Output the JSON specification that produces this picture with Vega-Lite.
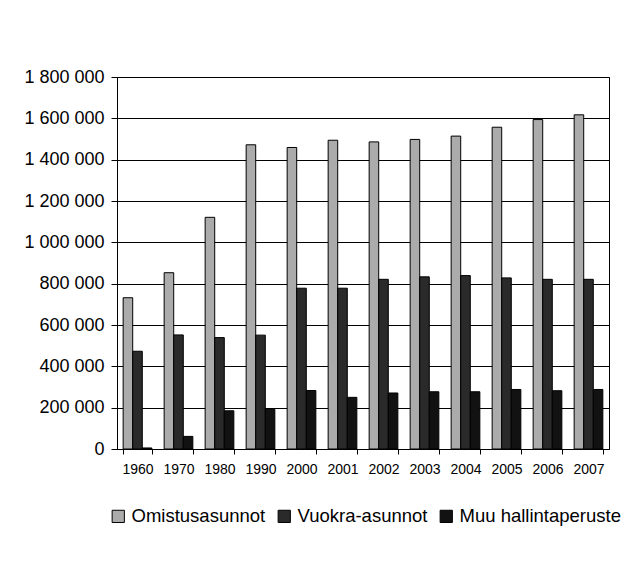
{
  "$schema": "https://vega.github.io/schema/vega-lite/v6.json",
  "width": 492,
  "height": 372,
  "autosize": {"type": "none"},
  "padding": {"left": 117, "top": 77, "right": 22, "bottom": 121},
  "background": "white",
  "config": {
    "locale": {"number": {"decimal": ",", "thousands": " ", "grouping": [3], "currency": ["", " €"]}},
    "font": "Liberation Sans",
    "view": {"stroke": "black", "strokeWidth": 1}
  },
  "data": {
    "values": [
      {"vuosi": "1960", "laji": "Omistusasunnot", "asuntoja": 732000},
      {"vuosi": "1960", "laji": "Vuokra-asunnot", "asuntoja": 473000},
      {"vuosi": "1960", "laji": "Muu hallintaperuste", "asuntoja": 5000},
      {"vuosi": "1970", "laji": "Omistusasunnot", "asuntoja": 853000},
      {"vuosi": "1970", "laji": "Vuokra-asunnot", "asuntoja": 552000},
      {"vuosi": "1970", "laji": "Muu hallintaperuste", "asuntoja": 61000},
      {"vuosi": "1980", "laji": "Omistusasunnot", "asuntoja": 1121000},
      {"vuosi": "1980", "laji": "Vuokra-asunnot", "asuntoja": 539000},
      {"vuosi": "1980", "laji": "Muu hallintaperuste", "asuntoja": 185000},
      {"vuosi": "1990", "laji": "Omistusasunnot", "asuntoja": 1472000},
      {"vuosi": "1990", "laji": "Vuokra-asunnot", "asuntoja": 551000},
      {"vuosi": "1990", "laji": "Muu hallintaperuste", "asuntoja": 192000},
      {"vuosi": "2000", "laji": "Omistusasunnot", "asuntoja": 1459000},
      {"vuosi": "2000", "laji": "Vuokra-asunnot", "asuntoja": 778000},
      {"vuosi": "2000", "laji": "Muu hallintaperuste", "asuntoja": 283000},
      {"vuosi": "2001", "laji": "Omistusasunnot", "asuntoja": 1494000},
      {"vuosi": "2001", "laji": "Vuokra-asunnot", "asuntoja": 778000},
      {"vuosi": "2001", "laji": "Muu hallintaperuste", "asuntoja": 250000},
      {"vuosi": "2002", "laji": "Omistusasunnot", "asuntoja": 1486000},
      {"vuosi": "2002", "laji": "Vuokra-asunnot", "asuntoja": 821000},
      {"vuosi": "2002", "laji": "Muu hallintaperuste", "asuntoja": 271000},
      {"vuosi": "2003", "laji": "Omistusasunnot", "asuntoja": 1498000},
      {"vuosi": "2003", "laji": "Vuokra-asunnot", "asuntoja": 833000},
      {"vuosi": "2003", "laji": "Muu hallintaperuste", "asuntoja": 277000},
      {"vuosi": "2004", "laji": "Omistusasunnot", "asuntoja": 1514000},
      {"vuosi": "2004", "laji": "Vuokra-asunnot", "asuntoja": 839000},
      {"vuosi": "2004", "laji": "Muu hallintaperuste", "asuntoja": 277000},
      {"vuosi": "2005", "laji": "Omistusasunnot", "asuntoja": 1557000},
      {"vuosi": "2005", "laji": "Vuokra-asunnot", "asuntoja": 828000},
      {"vuosi": "2005", "laji": "Muu hallintaperuste", "asuntoja": 288000},
      {"vuosi": "2006", "laji": "Omistusasunnot", "asuntoja": 1594000},
      {"vuosi": "2006", "laji": "Vuokra-asunnot", "asuntoja": 821000},
      {"vuosi": "2006", "laji": "Muu hallintaperuste", "asuntoja": 282000},
      {"vuosi": "2007", "laji": "Omistusasunnot", "asuntoja": 1617000},
      {"vuosi": "2007", "laji": "Vuokra-asunnot", "asuntoja": 821000},
      {"vuosi": "2007", "laji": "Muu hallintaperuste", "asuntoja": 288000}
    ]
  },
  "mark": {"type": "bar", "stroke": "black", "strokeWidth": 1},
  "encoding": {
    "x": {
      "field": "vuosi",
      "type": "nominal",
      "title": null,
      "scale": {"paddingInner": 0.3, "paddingOuter": 0.15},
      "axis": {
        "labelAngle": 0,
        "labelFontSize": 14,
        "labelColor": "black",
        "labelPadding": 8,
        "tickBand": "extent",
        "tickColor": "black",
        "tickSize": 5,
        "domainColor": "black",
        "grid": false
      }
    },
    "xOffset": {"field": "laji", "sort": ["Omistusasunnot", "Vuokra-asunnot", "Muu hallintaperuste"]},
    "y": {
      "field": "asuntoja",
      "type": "quantitative",
      "title": null,
      "scale": {"domain": [0, 1800000]},
      "axis": {
        "values": [0, 200000, 400000, 600000, 800000, 1000000, 1200000, 1400000, 1600000, 1800000],
        "format": ",d",
        "labelFontSize": 18,
        "labelColor": "black",
        "labelPadding": 7,
        "tickSize": 6,
        "tickColor": "black",
        "domainColor": "black",
        "gridColor": "black",
        "gridOpacity": 1
      }
    },
    "color": {
      "field": "laji",
      "type": "nominal",
      "sort": ["Omistusasunnot", "Vuokra-asunnot", "Muu hallintaperuste"],
      "scale": {"domain": ["Omistusasunnot", "Vuokra-asunnot", "Muu hallintaperuste"], "range": ["#ababab", "#2a2a2a", "#121212"]},
      "legend": {
        "title": null,
        "orient": "none",
        "legendX": -8,
        "legendY": 430,
        "direction": "horizontal",
        "symbolType": "square",
        "symbolSize": 150,
        "symbolStrokeColor": "black",
        "symbolStrokeWidth": 1,
        "labelFontSize": 18.5,
        "labelColor": "black",
        "labelLimit": 300,
        "columnPadding": 9,
        "labelOffset": 4
      }
    }
  }
}
